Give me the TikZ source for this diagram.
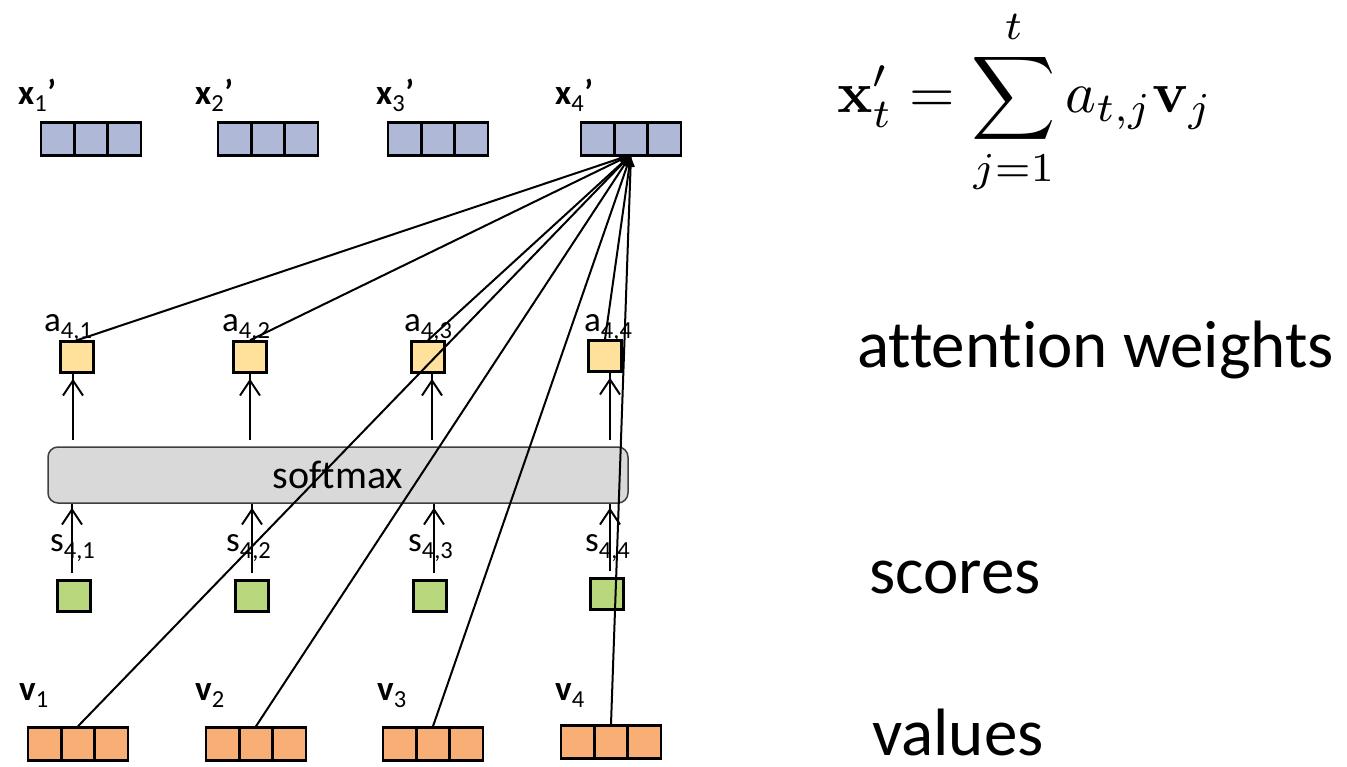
\documentclass[tikz,border=0pt]{standalone}
\usepackage{amsmath}
\usepackage[no-math]{fontspec}
\setmainfont{Carlito}[Ligatures={NoCommon}]
\usepackage{graphicx}
\usetikzlibrary{calc,arrows.meta}

\definecolor{outblue}{HTML}{AFB8D7}
\definecolor{wyellow}{HTML}{FFE19B}
\definecolor{sgreen}{HTML}{B9D77C}
\definecolor{vorange}{HTML}{F9AE76}
\definecolor{smgray}{HTML}{D9D9D9}
\definecolor{smedge}{HTML}{3F3F3F}

\tikzset{
  vec/.style={draw, line width=2.5pt, fill=#1, minimum width=100pt,
    minimum height=33pt, inner sep=0pt,
    path picture={
      \draw[line width=2.5pt]
        ($(path picture bounding box.south west)!1/3!(path picture bounding box.south east)$) --
        ($(path picture bounding box.north west)!1/3!(path picture bounding box.north east)$)
        ($(path picture bounding box.south west)!2/3!(path picture bounding box.south east)$) --
        ($(path picture bounding box.north west)!2/3!(path picture bounding box.north east)$);
    }},
  sq/.style={draw, line width=2.5pt, fill=#1, minimum width=33pt,
    minimum height=31pt, inner sep=0pt},
  lbl/.style={font=\fontsize{35}{40}\selectfont, anchor=base west, inner sep=0pt},
  side/.style={font=\fontsize{67}{80}\selectfont, anchor=base west, inner sep=0pt},
  up/.style={line width=2pt, -{Straight Barb[length=15pt,width=20pt,line width=2pt]}},
  conn/.style={line width=2pt, -{Latex[length=12pt,width=9pt]}},
}

\begin{document}
\begin{tikzpicture}[x=1pt,y=-1pt]
\useasboundingbox (0,0) rectangle (1347,766);

% output vectors
\node[vec=outblue] (x1) at (91,139) {};
\node[vec=outblue] (x2) at (268,139) {};
\node[vec=outblue] (x3) at (438,139) {};
\node[vec=outblue] (x4) at (631,139) {};
\node[lbl] (lx1) at (18,104) {\textbf{x}\textsubscript{1}\textbf{’}};
\node[lbl] (lx2) at (195,104) {\textbf{x}\textsubscript{2}\textbf{’}};
\node[lbl] (lx3) at (376,104) {\textbf{x}\textsubscript{3}\textbf{’}};
\node[lbl] (lx4) at (555,104) {\textbf{x}\textsubscript{4}\textbf{’}};

% attention weights
\node[sq=wyellow] (a1) at (77,357) {};
\node[sq=wyellow] (a2) at (250,357) {};
\node[sq=wyellow] (a3) at (428,357) {};
\node[sq=wyellow] (a4) at (605,356) {};
\node[lbl] (la1) at (44,331) {a\textsubscript{4,1}};
\node[lbl] (la2) at (222,331) {a\textsubscript{4,2}};
\node[lbl] (la3) at (404,331) {a\textsubscript{4,3}};
\node[lbl] (la4) at (584,331) {a\textsubscript{4,4}};

% softmax
\node[draw=smedge, fill=smgray, line width=1.5pt, rounded corners=10pt,
  minimum width=580pt, minimum height=56pt, inner sep=0pt,
  font=\fontsize{40}{48}\selectfont] (sm) at (338,475) {softmax};

% scores
\node[sq=sgreen] (s1) at (74,596) {};
\node[sq=sgreen] (s2) at (252,596) {};
\node[sq=sgreen] (s3) at (430,596) {};
\node[sq=sgreen] (s4) at (607,594) {};
\node[lbl] (ls1) at (50,551) {s\textsubscript{4,1}};
\node[lbl] (ls2) at (226,551) {s\textsubscript{4,2}};
\node[lbl] (ls3) at (408,551) {s\textsubscript{4,3}};
\node[lbl] (ls4) at (585,551) {s\textsubscript{4,4}};

% values
\node[vec=vorange] (v1) at (78,744) {};
\node[vec=vorange] (v2) at (256,744) {};
\node[vec=vorange] (v3) at (433,744) {};
\node[vec=vorange] (v4) at (611,742) {};
\node[lbl] (lv1) at (19,700) {\textbf{v}\textsubscript{1}};
\node[lbl] (lv2) at (195,700) {\textbf{v}\textsubscript{2}};
\node[lbl] (lv3) at (377,700) {\textbf{v}\textsubscript{3}};
\node[lbl] (lv4) at (555,700) {\textbf{v}\textsubscript{4}};

% arrows into and out of softmax
\foreach \i/\dx in {1/-4,2/0,3/4,4/5} {
  \draw[up] ([xshift=\dx pt]a\i.south |- sm.north) ++(0,-6) coordinate (au\i) -- ([xshift=\dx pt]a\i.south) ++(0,5);
}
\foreach \i/\dx in {1/-2,2/0,3/4,4/3} {
  \draw[up] ([xshift=\dx pt]s\i.north) ++(0,-6) coordinate (su\i) -- ([xshift=\dx pt]s\i.north |- sm.south) ++(0,4);
}

% weighted sum of values into x4'
\foreach \i in {1,2,3,4} {
  \draw[conn] (a\i.north) -- ([yshift=2pt]x4.south);
  \draw[conn] (v\i.north) -- ([yshift=2pt]x4.south);
}

% right-hand annotations
\node (eq) at (1025,102) {\scalebox{5.85}{$\displaystyle \mathbf{x}'_t=\sum_{j=1}^{t}a_{t,j}\mathbf{v}_j$}};
\node[side] (tw) at (857,367) {attention weights};
\node[side] (ts) at (869,593) {scores};
\node[side] (tv) at (872,755) {values};
\end{tikzpicture}
\end{document}
